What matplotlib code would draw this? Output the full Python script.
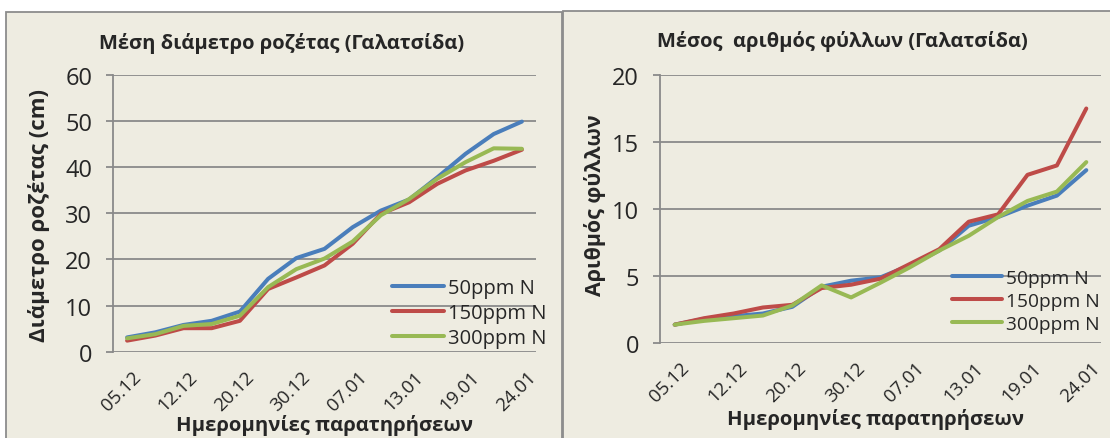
import matplotlib
matplotlib.use("Agg")
import matplotlib.pyplot as plt
from matplotlib.patches import Rectangle
from matplotlib.transforms import ScaledTranslation

plt.rcParams["font.family"] = ["Open Sans", "DejaVu Sans"]

# ----------------------------------------------------------------------
# Data: 15 observation dates, every second one labelled on the axis
# ----------------------------------------------------------------------
DATE_LABELS = ["05.12", "12.12", "20.12", "30.12", "07.01", "13.01", "19.01", "24.01"]
SERIES = ["50ppm N", "150ppm N", "300ppm N"]

diam_50 = [3.1, 4.2, 5.8, 6.7, 8.7, 15.8, 20.3, 22.3, 27.0, 30.6, 33.0, 37.8, 42.9, 47.2, 49.9]
diam_150 = [2.4, 3.5, 5.1, 5.1, 6.7, 13.6, 16.1, 18.7, 23.4, 29.9, 32.4, 36.4, 39.3, 41.4, 43.8]
diam_300 = [2.9, 3.8, 5.6, 6.0, 7.8, 14.0, 17.9, 20.2, 23.9, 29.6, 33.1, 37.5, 41.1, 44.1, 44.0]

leaves_50 = [1.37, 1.8, 2.0, 2.2, 2.7, 4.2, 4.65, 4.9, 5.8, 6.9, 8.75, 9.4, 10.25, 11.0, 12.9]
leaves_150 = [1.37, 1.85, 2.2, 2.65, 2.85, 4.1, 4.35, 4.8, 5.9, 7.0, 9.05, 9.6, 12.55, 13.25, 17.5]
leaves_300 = [1.37, 1.65, 1.85, 2.05, 2.8, 4.3, 3.4, 4.5, 5.65, 6.9, 8.0, 9.4, 10.6, 11.3, 13.5]

COLORS = ["#4A7EBB", "#BE4B48", "#98B954"]
PANEL_BG = "#EEECE1"
GRID = "#8A8A8A"
TEXT = "#262626"

W, H = 1110, 439


def fx(px):
    return px / W


def fy(py):
    return 1 - py / H


def draw_chart(fig, rect, series, ylim, yticks, title, title_xy, ylabel,
               ylabel_xy, ylabel_size, xlabel_xy, legend_xy, legend_size):
    ax = fig.add_axes(rect)
    ax.set_facecolor("none")
    x = list(range(len(series[0])))
    for vals, name, col in zip(series, SERIES, COLORS):
        ax.plot(x, vals, color=col, lw=2.9, label=name, solid_capstyle="round",
                solid_joinstyle="round")

    ax.set_xlim(-0.5, len(x) - 0.5)
    ax.set_ylim(*ylim)
    ax.set_yticks(yticks)
    ax.yaxis.grid(True, color=GRID, lw=1.3)
    ax.set_axisbelow(True)
    for s in ("top", "right", "bottom"):
        ax.spines[s].set_visible(False)
    ax.spines["left"].set_color(GRID)
    ax.spines["left"].set_linewidth(1.3)
    ax.tick_params(axis="y", colors=GRID, length=5, width=1.3, pad=10,
                   labelsize=17, labelcolor=TEXT)

    ax.set_xticks(x[::2])
    ax.set_xticklabels(DATE_LABELS, rotation=45, ha="right", va="top",
                       rotation_mode="anchor", fontsize=13.5, color=TEXT)
    ax.tick_params(axis="x", length=0, pad=11)
    shift = ScaledTranslation(5 / 100, 0, fig.dpi_scale_trans)
    for lbl in ax.get_xticklabels():
        lbl.set_transform(lbl.get_transform() + shift)

    fig.text(fx(title_xy[0]), fy(title_xy[1]), title, ha="center", va="center",
             fontsize=14.5, weight="bold", color=TEXT)
    fig.text(fx(ylabel_xy[0]), fy(ylabel_xy[1]), ylabel, ha="center", va="center",
             rotation=90, fontsize=ylabel_size, weight="bold", color=TEXT)
    fig.text(fx(xlabel_xy[0]), fy(xlabel_xy[1]), "Ημερομηνίες παρατηρήσεων",
             ha="center", va="center", fontsize=14.6, weight="bold", color=TEXT)

    leg = ax.legend(loc="upper left", bbox_to_anchor=(fx(legend_xy[0]), fy(legend_xy[1])),
                    bbox_transform=fig.transFigure, frameon=False, fontsize=legend_size,
                    handlelength=2.6, handletextpad=0.2, labelspacing=0.25,
                    borderpad=0, borderaxespad=0)
    for t in leg.get_texts():
        t.set_color(TEXT)
    return ax


fig = plt.figure(figsize=(W / 100, H / 100), dpi=100)
fig.patch.set_facecolor("white")

# two framed chart panels, kept behind the axes
fig.patches.append(Rectangle((fx(6), -0.1), fx(562 - 6), fy(13) + 0.1,
                             transform=fig.transFigure, facecolor=PANEL_BG,
                             edgecolor="#8C8C8C", lw=1.3, zorder=-10))
fig.patches.append(Rectangle((fx(563), -0.1), fx(W - 563) + 0.1, fy(12) + 0.1,
                             transform=fig.transFigure, facecolor=PANEL_BG,
                             edgecolor="#8C8C8C", lw=1.3, zorder=-10))

draw_chart(fig, [fx(113), fy(352.7), fx(423), (352.7 - 76) / H],
           [diam_50, diam_150, diam_300], (0, 60), range(0, 61, 10),
           "Μέση διάμετρο ροζέτας (Γαλατσίδα)", (282, 44),
           "Διάμετρο ροζέτας (cm)", (39, 216), 16, (325, 426), (392, 279), 14.5)

draw_chart(fig, [fx(660), fy(344), fx(441), (344 - 76) / H],
           [leaves_50, leaves_150, leaves_300], (0, 20), range(0, 21, 5),
           "Μέσος  αριθμός φύλλων (Γαλατσίδα)", (842, 42),
           "Αριθμός φύλλων", (595, 205), 15.4, (875, 420), (952, 270), 13.8)

fig.savefig("out.png", dpi=100)
